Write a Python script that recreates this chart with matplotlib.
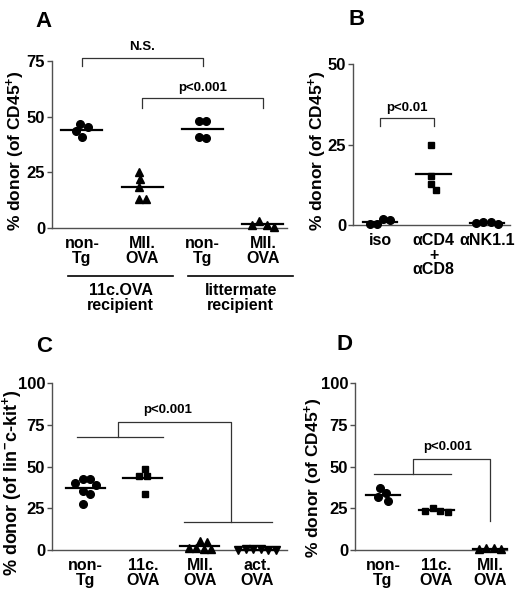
import numpy as np
import matplotlib
matplotlib.use('Agg')
import matplotlib.pyplot as plt
import matplotlib.transforms as mtransforms

# ---- data ----
a_labels = ['non-\nTg', 'MII.\nOVA', 'non-\nTg', 'MII.\nOVA']
a_vals = [[46.7, 45.5, 43.5, 40.9],
          [25.1, 21.8, 18.3, 13.0, 13.0],
          [48.2, 48.2, 41.0, 40.5],
          [1.5, 0.5, 1.5, 3.0]]
a_groups = ['11c.OVA\nrecipient', 'littermate\nrecipient']

b_labels = ['iso', '\u03b1CD4\n+\n\u03b1CD8', '\u03b1NK1.1']
b_vals = [[2.0, 1.5, 0.2, 0.2],
          [25.0, 15.3, 12.6, 10.8],
          [0.3, 0.8, 1.0, 0.5]]

c_labels = ['non-\nTg', '11c.\nOVA', 'MII.\nOVA', 'act.\nOVA']
c_vals = [[42.7, 42.3, 40.1, 38.7, 35.3, 33.3, 27.6],
          [48.8, 44.4, 44.4, 33.7],
          [5.5, 1.0, 0.3, 1.2, 0.3, 4.5],
          [0.3, 0.2, 0.2, 0.3, 0.2, 0.3]]

d_labels = ['non-\nTg', '11c.\nOVA', 'MII.\nOVA']
d_vals = [[36.9, 33.9, 31.5, 29.5],
          [24.9, 23.5, 23.5, 23.0],
          [1.2, 0.6, 1.0, 0.3]]

plt.rcParams['font.family'] = ['Liberation Sans', 'DejaVu Sans']
plt.rcParams['font.weight'] = 'bold'
plt.rcParams['mathtext.fontset'] = 'custom'
plt.rcParams['mathtext.rm'] = 'Liberation Sans:bold'
plt.rcParams['mathtext.it'] = 'Liberation Sans:bold'
plt.rcParams['mathtext.bf'] = 'Liberation Sans:bold'

W, H = 520, 598
fig = plt.figure(figsize=(W / 100, H / 100), dpi=100)
AXC = '#505050'
CD45 = '% donor (of CD45$^{+}$)'


def px_axes(left, top, right, bottom):
    return fig.add_axes([left / W, 1 - bottom / H, (right - left) / W, (bottom - top) / H])


def style(ax, xlim, ylim, yticks, labels, ylabel, lab_xy, lab_fs=12.5):
    ax.set_xlim(xlim)
    ax.set_ylim(ylim)
    for s in ['top', 'right']:
        ax.spines[s].set_visible(False)
    for s in ['left', 'bottom']:
        ax.spines[s].set_color(AXC)
        ax.spines[s].set_linewidth(1.0)
    ax.set_yticks(yticks)
    ax.set_xticks(range(1, len(labels) + 1))
    ax.set_xticklabels(labels, linespacing=0.95)
    ax.tick_params(axis='x', length=0, pad=6, labelsize=11.5)
    ax.tick_params(axis='y', direction='out', length=3.5, width=1, color=AXC,
                   pad=1.5, labelsize=12)
    ax.set_ylabel(ylabel, fontsize=lab_fs, fontweight='bold')
    ax.yaxis.set_label_coords(*lab_xy)


def swarm(ax, vals, center, diam=7.5):
    # simple beeswarm: put each point as near the centre as it can go without overlap
    bb = ax.get_position()
    x0, x1 = ax.get_xlim()
    y0, y1 = ax.get_ylim()
    sx = bb.width * W / (x1 - x0)
    sy = bb.height * H / (y1 - y0)
    order = sorted(range(len(vals)), key=lambda i: -vals[i])
    cands = [0.0]
    for k in range(1, 30):
        cands += [k * diam / 4, -k * diam / 4]
    placed = []
    offs = [0.0] * len(vals)
    for i in order:
        for off in cands:
            if all((off - po) ** 2 + ((vals[i] - pv) * sy) ** 2 >= diam ** 2 for po, pv in placed):
                break
        placed.append((off, vals[i]))
        offs[i] = off
    shift = (max(offs) + min(offs)) / 2
    return [center + (o - shift) / sx for o in offs]


def group(ax, pos, vals, marker, ms, half=0.34):
    xs = swarm(ax, vals, pos)
    ax.plot(xs, vals, ls='none', marker=marker, ms=ms, color='black', mec='black',
            clip_on=False, zorder=3)
    m = np.mean(vals)
    ax.plot([pos - half, pos + half], [m, m], color='black', lw=1.6, clip_on=False, zorder=4)


def line(ax, xs, ys):
    ax.plot(xs, ys, color='#333333', lw=0.9, clip_on=False, zorder=2)


def ptext(ax, x, y, s):
    ax.text(x, y, s, ha='center', va='center', fontsize=9.5, fontweight='bold')


# ---- A ----
axA = px_axes(52, 61, 287, 228)
style(axA, (0.503, 4.4), (0, 75), [0, 25, 50, 75], a_labels, CD45, (-0.106, 0.46))
for i, (v, mk, ms) in enumerate(zip(a_vals, ['o', '^', 'o', '^'], [5.5, 6, 5.5, 6])):
    group(axA, i + 1, v, mk, ms)
line(axA, [1, 1, 3, 3], [72.7, 76.3, 76.3, 72.7])
ptext(axA, 2, 81.3, 'N.S.')
line(axA, [2, 2, 4, 4], [53.9, 58.4, 58.4, 53.9])
ptext(axA, 3, 62.9, 'p<0.001')
trA = mtransforms.blended_transform_factory(axA.transData, axA.transAxes)
axA.plot([0.77, 2.51], [-0.287, -0.287], color='black', lw=1.2, transform=trA, clip_on=False)
axA.plot([2.76, 4.5], [-0.287, -0.287], color='black', lw=1.2, transform=trA, clip_on=False)
for x, s in zip([1.64, 3.63], a_groups):
    axA.text(x, -0.33, s, transform=trA, ha='center', va='top', fontsize=11.5,
             fontweight='bold', linespacing=0.95)

# ---- B ----
axB = px_axes(353, 64, 510, 225)
style(axB, (0.495, 3.43), (0, 50), [0, 25, 50], b_labels, CD45, (-0.155, 0.46))
for i, (v, mk, ms) in enumerate(zip(b_vals, ['o', 's', 'o'], [5.5, 5, 5.5])):
    group(axB, i + 1, v, mk, ms, half=0.32)
line(axB, [1, 1, 2, 2], [30.7, 33.3, 33.3, 30.7])
ptext(axB, 1.5, 36.3, 'p<0.01')

# ---- C ----
axC = px_axes(52, 383, 287, 550)
style(axC, (0.41, 4.525), (0, 100), [0, 25, 50, 75, 100], c_labels,
      '% donor (of lin$^{-}$c-kit$^{+}$)', (-0.12, 0.40), lab_fs=13)
for i, (v, mk, ms) in enumerate(zip(c_vals, ['o', 's', '^', 'v'], [5.5, 5, 6, 6])):
    group(axC, i + 1, v, mk, ms)
line(axC, [0.85, 2.35], [67.7, 67.7])
line(axC, [1.56, 1.56, 3.55, 3.55], [67.7, 76.7, 76.7, 16.9])
line(axC, [2.72, 4.26], [16.9, 16.9])
ptext(axC, 2.44, 83.7, 'p<0.001')

# ---- D ----
axD = px_axes(355, 383, 507, 550)
style(axD, (0.477, 3.32), (0, 100), [0, 25, 50, 75, 100], d_labels, CD45, (-0.195, 0.43))
for i, (v, mk, ms) in enumerate(zip(d_vals, ['o', 's', '^'], [5.5, 5, 5.5])):
    group(axD, i + 1, v, mk, ms, half=0.32)
line(axD, [0.83, 2.27], [45.6, 45.6])
line(axD, [1.555, 1.555, 3.0, 3.0], [45.6, 54.4, 54.4, 17.3])
ptext(axD, 2.21, 61.8, 'p<0.001')

# panel letters
for x, y, s in [(35, 27, 'A'), (348, 25, 'B'), (36, 352, 'C'), (337, 350, 'D')]:
    fig.text(x / W, 1 - y / H, s, fontsize=16, fontweight='bold', va='baseline')

fig.savefig('out.png', dpi=100)
